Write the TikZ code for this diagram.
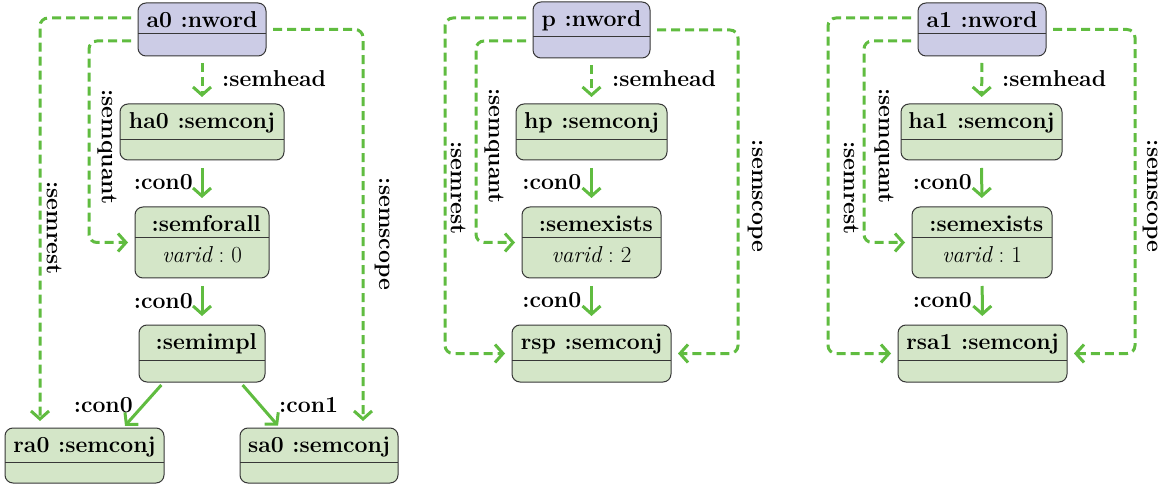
\documentclass[tikz,border=0pt]{standalone}
\usepackage{fontspec}
\usetikzlibrary{arrows.meta}
\definecolor{cpurple}{RGB}{204,204,230}
\definecolor{cgreenf}{RGB}{212,230,200}
\definecolor{cedge}{RGB}{96,188,64}
\definecolor{cborder}{RGB}{55,55,55}
\tikzset{
 ubox/.style={draw=cborder, line width=1pt, rounded corners=8pt, inner sep=0pt, outer sep=0pt},
 unword/.style={ubox, fill=cpurple},
 usem/.style={ubox, fill=cgreenf},
 udiv/.style={draw=cborder, line width=1pt},
 utext/.style={font=\fontsize{23}{27}\selectfont\bfseries, inner sep=0pt, anchor=base},
 uattr/.style={font=\fontsize{23}{27}\selectfont, inner sep=0pt, anchor=base},
 elabel/.style={font=\fontsize{23}{27}\selectfont\bfseries, inner sep=0pt},
 semd/.style={draw=cedge, line width=3pt, dash pattern=on 9pt off 5pt, rounded corners=8pt, -{Straight Barb[length=8pt,width=18pt]}, shorten <=7pt, shorten >=7pt},
 cond/.style={draw=cedge, line width=3pt, -{Straight Barb[length=8pt,width=18pt]}},
}
\newcommand\ubox[8]{%
 \pgfmathsetmacro\ucx{(#3+#4)/2}%
 \pgfmathsetmacro\ucy{(#5+#7)/2}%
 \pgfmathsetmacro\uw{#4-#3}%
 \pgfmathsetmacro\uh{#7-#5}%
 \node[#2, minimum width=\uw pt, minimum height=\uh pt] (#1) at (\ucx,\ucy) {};
 \draw[udiv] (#3,#6) -- (#4,#6);
 \node[utext] (#1-t) at (\ucx,#5+24.5) {#8};
}
\begin{document}
\begin{tikzpicture}[x=1pt,y=-1pt]
\useasboundingbox (0,0) rectangle (1164,486);
% ---------- diagram 1
\ubox{a0}{unword}{138}{266}{3}{34}{56}{a0 :nword}
\ubox{ha0}{usem}{120}{284}{104}{140}{160}{ha0 :semconj}
\ubox{sf}{usem}{135}{269}{207}{238}{278}{\ :semforall}
\ubox{si}{usem}{139}{265}{325}{360}{382}{\ :semimpl}
\ubox{ra0}{usem}{5}{164}{428}{462}{483}{ra0 :semconj}
\ubox{sa0}{usem}{240}{398}{428}{462}{483}{sa0 :semconj}
\node[uattr] (sf-a) at (202,263) {\itshape varid\upshape\ :\ 0};
\draw[semd] (a0) -- (ha0);
\draw[cond, shorten <=8pt, shorten >=9pt] (ha0) -- (sf);
\draw[cond, shorten <=8pt, shorten >=9pt] (sf) -- (si);
\draw[cond, shorten <=4pt, shorten >=3pt] ([xshift=-38pt]si.south) -- ([xshift=38.5pt]ra0.north);
\draw[cond, shorten <=4pt, shorten >=3pt] ([xshift=38pt]si.south) -- ([xshift=-39pt]sa0.north);
\draw[semd] ([yshift=11.5pt]a0.west) -| ([xshift=-44.5pt]ra0.north);
\draw[semd] ([yshift=-11.5pt]a0.west) -| (89,200) |- (sf.west);
\draw[semd] (a0.east) -| ([xshift=44pt]sa0.north);
\node[elabel, anchor=base west] (l1h) at (222,87) {:semhead};
\node[elabel, anchor=base east] (l1c1) at (193,190) {:con0};
\node[elabel, anchor=base east] (l1c2) at (193,308) {:con0};
\node[elabel, anchor=base east] (l1c3) at (133,412) {:con0};
\node[elabel, anchor=base west] (l1c4) at (279,412) {:con1};
\node[elabel, rotate=-90] (l1r) at (54,228) {:semrest};
\node[elabel, rotate=-90] (l1q) at (107,147) {:semquant};
\node[elabel, rotate=-90] (l1s) at (382,234) {:semscope};
% ---------- diagram 2
\ubox{p}{unword}{533}{650}{2}{37}{58}{p :nword}
\ubox{hp}{usem}{516}{667}{104}{140}{160}{hp :semconj}
\ubox{se2}{usem}{522}{661}{207}{238}{278}{\ :semexists}
\ubox{rsp}{usem}{512}{671}{325}{360}{382}{rsp :semconj}
\node[uattr] (se2-a) at (591.5,263) {\itshape varid\upshape\ :\ 2};
\draw[semd] (p) -- (hp);
\draw[cond, shorten <=8pt, shorten >=9pt] (hp) -- (se2);
\draw[cond, shorten <=8pt, shorten >=9pt] (se2) -- (rsp);
\draw[semd] ([yshift=12pt]p.west) -| (445,200) |- (rsp.west);
\draw[semd] ([yshift=-11pt]p.west) -| (476,200) |- (se2.west);
\draw[semd] (p.east) -| (738,200) |- (rsp.east);
\node[elabel, anchor=base west] (l2h) at (612,87) {:semhead};
\node[elabel, anchor=base east] (l2c1) at (581.5,190) {:con0};
\node[elabel, anchor=base east] (l2c2) at (581.5,307) {:con0};
\node[elabel, rotate=-90] (l2r) at (458,188) {:semrest};
\node[elabel, rotate=-90] (l2q) at (494,146) {:semquant};
\node[elabel, rotate=-90] (l2s) at (755,196) {:semscope};
% ---------- diagram 3
\ubox{a1}{unword}{918}{1046}{3}{34}{56}{a1 :nword}
\ubox{ha1}{usem}{901}{1062}{104}{140}{160}{ha1 :semconj}
\ubox{se1}{usem}{912}{1052}{207}{238}{278}{\ :semexists}
\ubox{rsa1}{usem}{898}{1067}{325}{360}{382}{rsa1 :semconj}
\node[uattr] (se1-a) at (982,263) {\itshape varid\upshape\ :\ 1};
\draw[semd] (a1) -- (ha1);
\draw[cond, shorten <=8pt, shorten >=9pt] (ha1) -- (se1);
\draw[cond, shorten <=8pt, shorten >=9pt] (se1) -- (rsa1);
\draw[semd] ([yshift=11.5pt]a1.west) -| (828,200) |- (rsa1.west);
\draw[semd] ([yshift=-11.5pt]a1.west) -| (864,200) |- (se1.west);
\draw[semd] (a1.east) -| (1135,200) |- (rsa1.east);
\node[elabel, anchor=base west] (l3h) at (1002,87) {:semhead};
\node[elabel, anchor=base east] (l3c1) at (972,190) {:con0};
\node[elabel, anchor=base east] (l3c2) at (972,307) {:con0};
\node[elabel, rotate=-90] (l3r) at (851,188) {:semrest};
\node[elabel, rotate=-90] (l3q) at (884,146) {:semquant};
\node[elabel, rotate=-90] (l3s) at (1150,196) {:semscope};
\end{tikzpicture}
\end{document}
